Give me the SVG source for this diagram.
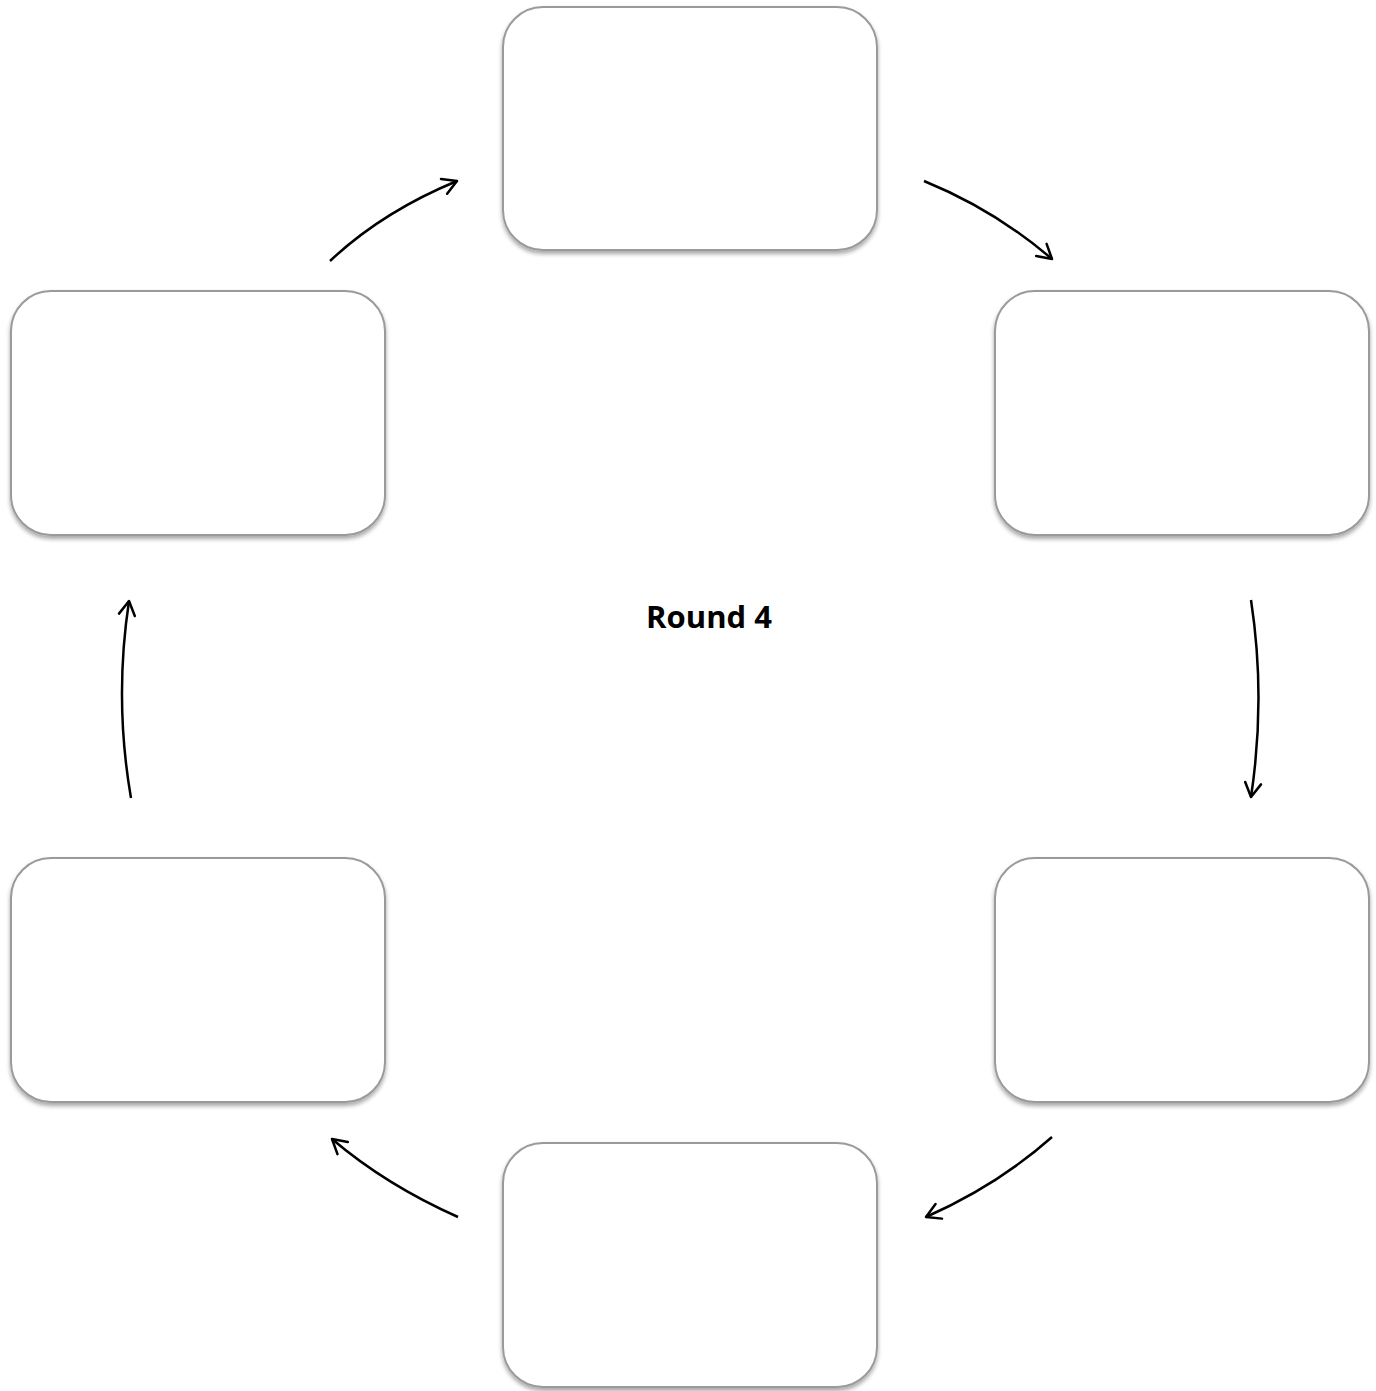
<svg xmlns="http://www.w3.org/2000/svg" width="1376" height="1391" viewBox="0 0 1376 1391">
<style>
.box{fill:#fff;stroke:#9a9a9a;stroke-width:2}
.arr{fill:none;stroke:#000;stroke-width:2.5;marker-end:url(#ah)}
.lbl{font-family:"Open Sans","Liberation Sans",sans-serif;font-weight:bold;font-size:31px;fill:#000}
</style>
<defs>
<filter id="sh" x="-10%" y="-10%" width="120%" height="125%">
<feDropShadow dx="0" dy="3" stdDeviation="2" flood-color="#000" flood-opacity="0.35"/>
</filter>
<marker id="ah" viewBox="0 0 20 20" refX="18" refY="10" markerWidth="20" markerHeight="20" markerUnits="userSpaceOnUse" orient="auto">
<path d="M4,2 L18,10 L4,18" fill="none" stroke="#000" stroke-width="2.5" stroke-linecap="round" stroke-linejoin="round"/>
</marker>
</defs>
<rect width="1376" height="1391" fill="#fff"/>
<g id="node-top"><rect class="box" filter="url(#sh)" x="503" y="7" width="374" height="243" rx="40"/></g>
<g id="node-right-upper"><rect class="box" filter="url(#sh)" x="995" y="291" width="374" height="244" rx="40"/></g>
<g id="node-right-lower"><rect class="box" filter="url(#sh)" x="995" y="858" width="374" height="244" rx="40"/></g>
<g id="node-bottom"><rect class="box" filter="url(#sh)" x="503" y="1143" width="374" height="244" rx="40"/></g>
<g id="node-left-lower"><rect class="box" filter="url(#sh)" x="11" y="858" width="374" height="244" rx="40"/></g>
<g id="node-left-upper"><rect class="box" filter="url(#sh)" x="11" y="291" width="374" height="244" rx="40"/></g>
<g id="connectors">
<path class="arr" d="M330,261 Q382,212 457,181"/>
<path class="arr" d="M924,181 Q995,210 1052,259"/>
<path class="arr" d="M1251,600 Q1266,698 1251,797"/>
<path class="arr" d="M1052,1137 Q998,1185 926,1217"/>
<path class="arr" d="M458,1217 Q386,1185 332,1139"/>
<path class="arr" d="M131,798 Q114,700 129,601"/>
</g>
<g id="center-label"><text class="lbl" x="709" y="628" text-anchor="middle">Round 4</text></g>
</svg>
